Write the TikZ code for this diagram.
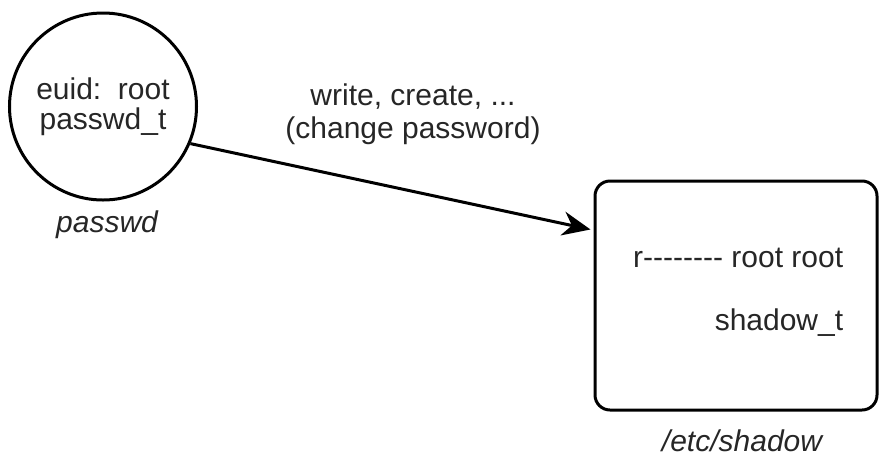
\documentclass[tikz,border=0pt]{standalone}
\usepackage{fontspec}
\setmainfont{Liberation Sans}
\usetikzlibrary{positioning,arrows.meta}

\begin{document}
\begin{tikzpicture}[x=1pt, y=-1pt, line width=3pt,
    every node/.style = {font=\fontsize{30}{30}\selectfont, text=black!85},
    proc/.style = {shape=circle, draw=black, minimum size=187pt, align=center},
    obj/.style = {shape=rectangle, rounded corners=15pt, draw=black,
                  minimum width=282pt, minimum height=229pt},
    caption/.style = {font=\fontsize{30}{30}\selectfont\itshape}]
  \useasboundingbox (0,0) rectangle (880,456);
  \node[proc] (passwd) at (103,106.5) {euid:\ \ root\\passwd\_t};
  \node[obj] (shadow) at (736,295.5) {};
  \node[anchor=base east] (perm) at (848,267) {r-{}-{}-{}-{}-{}-{}-{}- root root};
  \node[anchor=base east] (type) at (848,330) {shadow\_t};
  \node[caption, anchor=base] (pname) at (107,232) {passwd};
  \node[caption, anchor=base] (fname) at (742,451) {/etc/shadow};
  \node[anchor=base] (act) at (413,105) {write, create, ...};
  \node[anchor=base] (why) at (413,138) {(change password)};
  \draw[-{Stealth[length=28pt,width=24pt,inset=9pt]}] (passwd.-23) -- ([yshift=66pt,xshift=-3pt]shadow.west);
\end{tikzpicture}
\end{document}
